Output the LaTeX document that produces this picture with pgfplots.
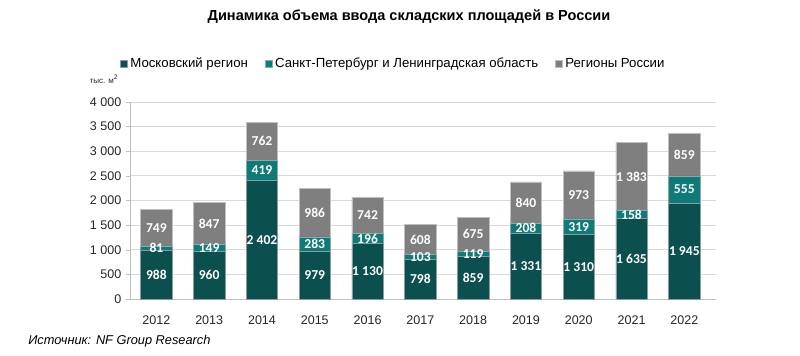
\documentclass[border=0pt]{standalone}
\usepackage{pgfplots}
\pgfplotsset{compat=1.18}
\usepackage{pgfplotstable}
\usepackage{fontspec}
\setmainfont{Liberation Sans}
\newfontfamily\lblfont{Carlito}
\definecolor{cMos}{HTML}{0B4F4E}
\definecolor{cSpb}{HTML}{0E7B78}
\definecolor{cReg}{HTML}{7F7F7F}
\definecolor{cGrid}{HTML}{D9D9D9}
\definecolor{cAxis}{HTML}{BFBFBF}
\pgfplotstableread{
x year mos spb reg
0 2012 988 81 749
1 2013 960 149 847
2 2014 2402 419 762
3 2015 979 283 986
4 2016 1130 196 742
5 2017 798 103 608
6 2018 859 119 675
7 2019 1331 208 840
8 2020 1310 319 973
9 2021 1635 158 1383
10 2022 1945 555 859
}\datatable
\pgfkeys{/pgf/number format/.cd, 1000 sep={\ }, assume math mode=true}
\begin{document}
\begin{tikzpicture}
\path[use as bounding box] (0,0) rectangle (600pt,267pt);
\pgfplotsset{myaxis/.style={
  at={(97.5pt,42.75pt)}, anchor=south west,
  scale only axis, width=439.5pt, height=147.75pt,
  xmin=-0.5, xmax=10.6, ymin=0, ymax=4000,
}}
\begin{axis}[myaxis,
  ybar stacked, bar width=23.5pt,
  axis x line*=bottom, axis y line*=left,
  axis line style={cAxis},
  ytick={0,500,...,4000},
  ymajorgrids, grid style={cGrid, line width=0.6pt},
  xtick={0,...,10},
  xticklabels={2012,2013,2014,2015,2016,2017,2018,2019,2020,2021,2022},
  x tick style={draw=none},
  y tick style={cAxis},
  tick align=outside, major tick length=3pt,
  tick label style={font=\fontsize{9.4}{11}\selectfont, text=black!85},
  xticklabel style={yshift=-6pt},
  legend columns=3,
  legend style={at={(0.45,1.193)}, anchor=center, draw=none, fill=none,
    font=\fontsize{9.9}{11}\selectfont,
    /tikz/every even column/.append style={column sep=10.8pt},
    /tikz/every odd column/.append style={column sep=0pt},
    inner sep=0pt},
  legend image code/.code={\fill[#1] (0pt,-2.6pt) rectangle (5.2pt,2.6pt);},
  clip=false,
]
\addplot[fill=cMos, draw=cAxis!70!cMos, line width=0.4pt] table[x=x, y=mos] {\datatable};
\addlegendentry{Московский регион}
\addplot[fill=cSpb, draw=cAxis!70!cSpb, line width=0.4pt] table[x=x, y=spb] {\datatable};
\addlegendentry{Санкт-Петербург и Ленинградская область}
\addplot[fill=cReg, draw=cAxis, line width=0.4pt] table[x=x, y=reg] {\datatable};
\addlegendentry{Регионы России}
\end{axis}
\begin{axis}[myaxis, hide axis,
  nodes near coords={\pgfmathprintnumber{\pgfplotspointmeta}},
  every node near coord/.append style={anchor=center, text=white, font=\lblfont\bfseries\fontsize{10.2}{12}\selectfont},
  point meta=explicit, clip=false]
\addplot[draw=none, mark=none] table[x=x, y expr=\thisrow{mos}/2, meta=mos] {\datatable};
\addplot[draw=none, mark=none] table[x=x, y expr=\thisrow{mos}+\thisrow{spb}/2, meta=spb] {\datatable};
\addplot[draw=none, mark=none] table[x=x, y expr=\thisrow{mos}+\thisrow{spb}+\thisrow{reg}/2, meta=reg] {\datatable};
\end{axis}
\node[font=\bfseries\fontsize{10.9}{12}\selectfont] at (306.75pt,254.25pt) {Динамика объема ввода складских площадей в России};
\node[font=\fontsize{6}{7}\selectfont, text=black!85] at (78pt,207.5pt) {тыс. м\textsuperscript{2}};
\node[font=\itshape\fontsize{9.6}{11}\selectfont, anchor=west, inner sep=0pt] at (21pt,11.25pt) {Источник: NF Group Research};
\end{tikzpicture}
\end{document}
